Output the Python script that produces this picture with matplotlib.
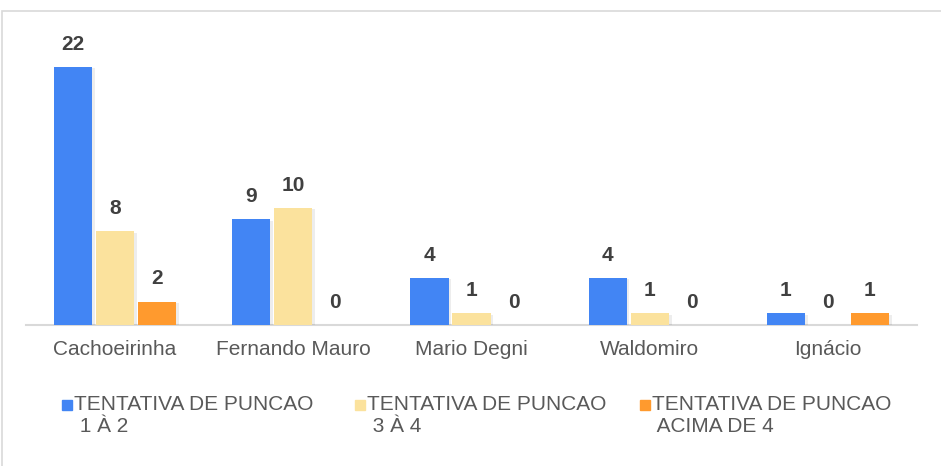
import numpy as np
import matplotlib
matplotlib.use("Agg")
from matplotlib import pyplot as plt
from matplotlib import patheffects as pe
from matplotlib.patches import Rectangle

# data
locais = ["Cachoeirinha", "Fernando Mauro", "Mario Degni", "Waldomiro", "Ignácio"]
series_names = ["TENTATIVA DE PUNCAO\n 1 À 2",
                "TENTATIVA DE PUNCAO\n 3 À 4",
                "TENTATIVA DE PUNCAO\n ACIMA DE 4"]
tent_1a2 = [22, 9, 4, 4, 1]
tent_3a4 = [8, 10, 1, 1, 0]
tent_acima4 = [2, 0, 0, 0, 1]

colors = ["#4285F4", "#FBE29D", "#FF9A2E"]
plt.rcParams['font.family'] = ['Liberation Sans', 'DejaVu Sans']

W, H = 941, 466
fig = plt.figure(figsize=(W / 100, H / 100), dpi=100)

# light frame around the chart (partly outside the canvas, as in the reference)
fig.patches.append(Rectangle((1.5 / W, -0.1), 1.2, 1 - 10.5 / H + 0.1,
                             transform=fig.transFigure, fill=False,
                             edgecolor="#D9D9D9", linewidth=1.2))

left, right, base = 26, 917, 325
ymax = 25
px_per_unit = 11.73
top = base - ymax * px_per_unit
ax = fig.add_axes([left / W, 1 - base / H, (right - left) / W, (base - top) / H])

x = np.arange(len(locais))
step = 0.236
width = 0.214
shadow = [pe.SimplePatchShadow(offset=(2, -1), shadow_rgbFace="#000000", alpha=0.07),
          pe.Normal()]

for i, vals in enumerate([tent_1a2, tent_3a4, tent_acima4]):
    bars = ax.bar(x + (i - 1) * step, vals, width, color=colors[i], zorder=3)
    for b in bars:
        b.set_path_effects(shadow)
    for xi, v in zip(x + (i - 1) * step, vals):
        ax.annotate(str(v), (xi, v), xytext=(0, 9.5), textcoords="offset points",
                    ha="center", va="bottom", fontsize=15, fontweight="bold",
                    color="#404040")

ax.set_xlim(-0.5, len(locais) - 0.5)
ax.set_ylim(0, ymax)
ax.set_xticks(x)
ax.set_xticklabels(locais, fontsize=15, color="#595959")
ax.tick_params(axis="x", length=0, pad=11)
ax.set_yticks([])
for s in ["top", "right", "left"]:
    ax.spines[s].set_visible(False)
ax.spines["bottom"].set_color("#D9D9D9")
ax.spines["bottom"].set_linewidth(1.5)
ax.spines["bottom"].set_zorder(2)

# legend drawn by hand so the marker sits on the first line
leg_x = [62, 355, 640]
for i, name in enumerate(series_names):
    fig.patches.append(Rectangle((leg_x[i] / W, 1 - 410 / H), 10 / W, 10 / H,
                                 transform=fig.transFigure, color=colors[i]))
    fig.text((leg_x[i] + 12) / W, 1 - 395 / H, name, fontsize=15, color="#595959",
             ha="left", va="top", linespacing=1.2)

fig.savefig("out.png", dpi=100)
